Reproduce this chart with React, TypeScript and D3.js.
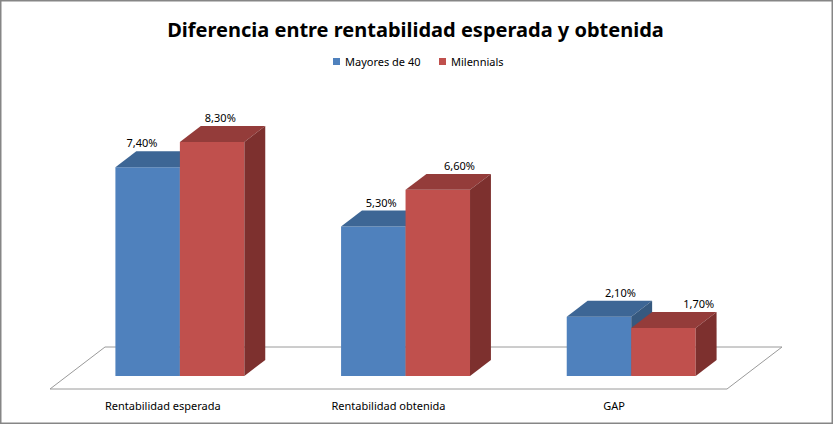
import React from 'react'
import * as d3 from 'd3'

const categories = ['Rentabilidad esperada', 'Rentabilidad obtenida', 'GAP']
const seriesNames = ['Mayores de 40', 'Milennials']
const mayores = [7.4, 5.3, 2.1]
const milennials = [8.3, 6.6, 1.7]
const valueLabels = [
    ['7,40%', '5,30%', '2,10%'],
    ['8,30%', '6,60%', '1,70%'],
]

const W = 833
const H = 424

// colores: frente, tapa, lateral
const palette = [
    { front: '#4F81BD', top: '#3D6695', side: '#36597F' },
    { front: '#C0504D', top: '#943C3A', side: '#7D302E' },
]

const floorFront = 389
const floorDepth = { dx: 55, dy: -42 }
const barNear = 0.31
const barFar = 0.69

const App: React.FC = () => {
    const values = [mayores, milennials]

    const x = d3.scaleBand<string>().domain(categories).range([50, 727]).padding(0)
    const inner = d3
        .scaleBand<string>()
        .domain(seriesNames)
        .range([0, x.bandwidth()])
        .paddingInner(0)
        .paddingOuter(0.75)
    const h = d3.scaleLinear().domain([0, 10]).range([0, 282])

    const nearOff = { dx: floorDepth.dx * barNear, dy: floorDepth.dy * barNear }
    const depth = {
        dx: floorDepth.dx * (barFar - barNear),
        dy: floorDepth.dy * (barFar - barNear),
    }
    const baseY = floorFront + nearOff.dy

    const pts = (p: [number, number][]) => p.map((d) => d.join(',')).join(' ')

    const floor: [number, number][] = [
        [x.range()[0], floorFront],
        [x.range()[1], floorFront],
        [x.range()[1] + floorDepth.dx, floorFront + floorDepth.dy],
        [x.range()[0] + floorDepth.dx, floorFront + floorDepth.dy],
    ]

    const font = "'Noto Sans', 'Liberation Sans', sans-serif"

    return (
        <div style={{ position: 'absolute', left: 0, top: 0 }}>
            <svg width={W} height={H} style={{ display: 'block' }}>
                <rect x={0} y={0} width={W} height={H} fill="#fff" />
                <rect
                    x={0.75}
                    y={0.75}
                    width={W - 1.5}
                    height={H - 1.5}
                    fill="none"
                    stroke="#868686"
                    strokeWidth={1.5}
                />

                <text
                    x={W / 2 - 1}
                    y={37}
                    textAnchor="middle"
                    fontFamily={font}
                    fontWeight="bold"
                    fontSize={20}
                    fill="#000"
                >
                    Diferencia entre rentabilidad esperada y obtenida
                </text>

                {/* leyenda */}
                {seriesNames.map((s, i) => {
                    const lx = 333 + i * 106
                    return (
                        <g key={s}>
                            <rect x={lx} y={58} width={7} height={7} fill={palette[i].front} />
                            <text x={lx + 12} y={65.5} fontFamily={font} fontSize={11} fill="#000">
                                {s}
                            </text>
                        </g>
                    )
                })}

                {/* suelo */}
                <polygon points={pts(floor)} fill="#fff" stroke="#9A9A9A" strokeWidth={1} />

                {/* barras */}
                {categories.map((c, ci) => (
                    <g key={c}>
                        {seriesNames.map((s, si) => {
                            const v = values[si][ci]
                            const x0 = (x(c) ?? 0) + (inner(s) ?? 0) + nearOff.dx
                            const x1 = x0 + inner.bandwidth()
                            const yt = baseY - h(v)
                            const col = palette[si]
                            const front: [number, number][] = [
                                [x0, yt],
                                [x1, yt],
                                [x1, baseY],
                                [x0, baseY],
                            ]
                            const top: [number, number][] = [
                                [x0, yt],
                                [x1, yt],
                                [x1 + depth.dx, yt + depth.dy],
                                [x0 + depth.dx, yt + depth.dy],
                            ]
                            const side: [number, number][] = [
                                [x1, yt],
                                [x1 + depth.dx, yt + depth.dy],
                                [x1 + depth.dx, baseY + depth.dy],
                                [x1, baseY],
                            ]
                            const cx = (x0 + x1) / 2
                            const lx =
                                cx + depth.dx / 2 + 0.06 * (cx - 400) + (si === 1 ? 9 : -1)
                            const ly = yt + depth.dy - 8 + 4
                            return (
                                <g key={s}>
                                    <polygon points={pts(front)} fill={col.front} />
                                    <polygon points={pts(top)} fill={col.top} />
                                    <polygon points={pts(side)} fill={col.side} />
                                    <text
                                        x={lx}
                                        y={ly}
                                        textAnchor="middle"
                                        fontFamily={font}
                                        fontSize={11}
                                        fill="#000"
                                    >
                                        {valueLabels[si][ci]}
                                    </text>
                                </g>
                            )
                        })}
                    </g>
                ))}

                {/* etiquetas de categoría */}
                {categories.map((c) => (
                    <text
                        key={c}
                        x={(x(c) ?? 0) + x.bandwidth() / 2}
                        y={410}
                        textAnchor="middle"
                        fontFamily={font}
                        fontSize={11}
                        fill="#000"
                    >
                        {c}
                    </text>
                ))}
            </svg>
        </div>
    )
}

export default App
